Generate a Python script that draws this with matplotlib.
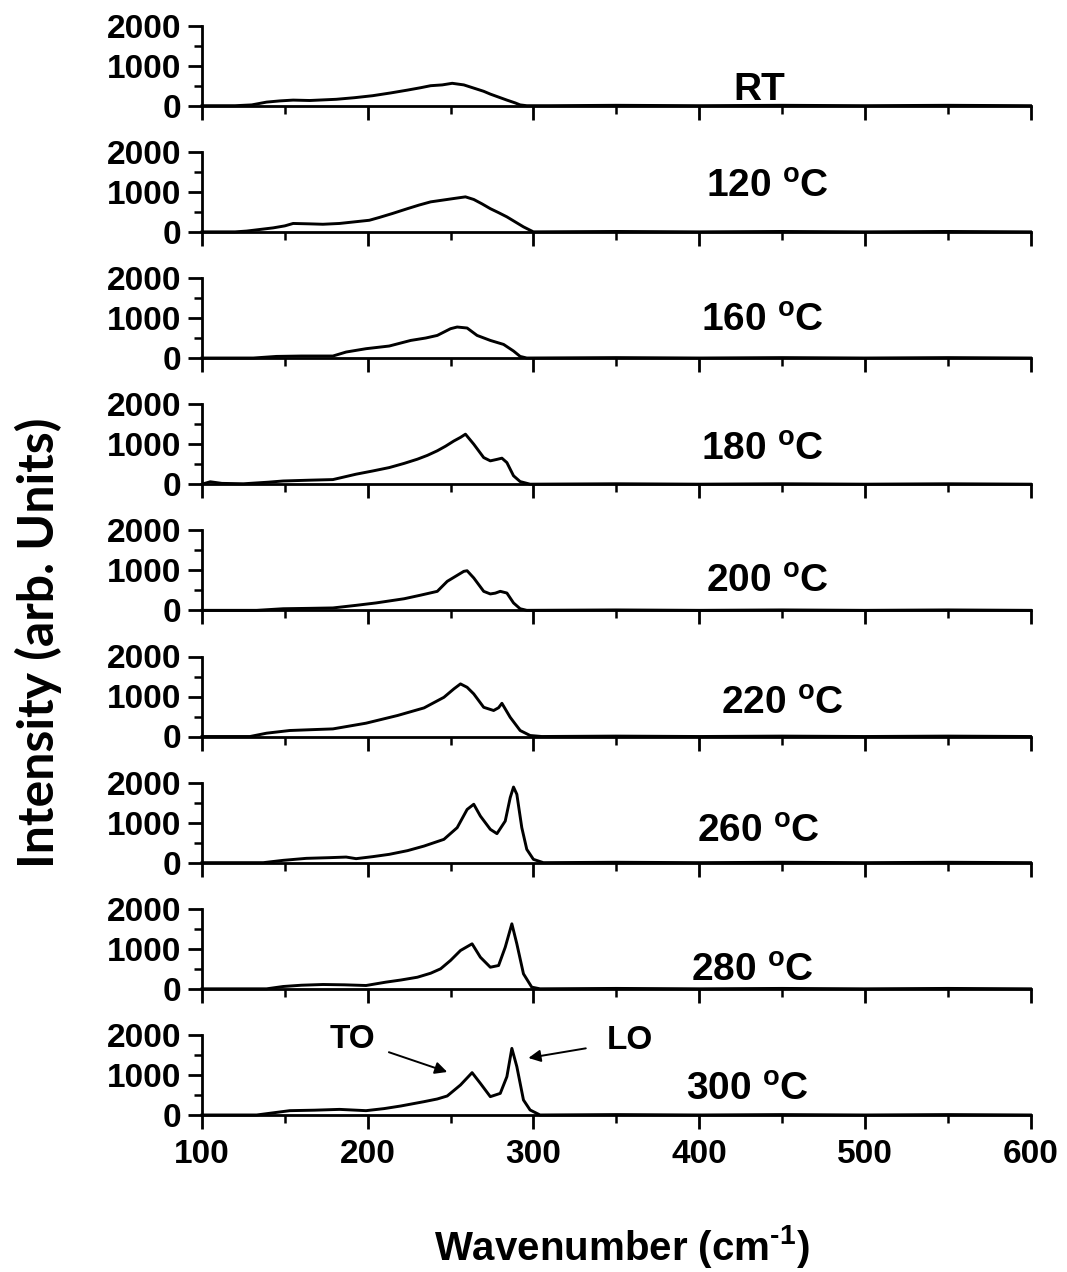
import matplotlib
matplotlib.use("Agg")
import matplotlib.pyplot as plt

plt.rcParams['font.family'] = ['Liberation Sans', 'DejaVu Sans']
plt.rcParams['font.weight'] = 'bold'
plt.rcParams['mathtext.default'] = 'regular'

# ---------------- data ----------------
labels = ["RT", "120 $^{o}$C", "160 $^{o}$C", "180 $^{o}$C", "200 $^{o}$C",
          "220 $^{o}$C", "260 $^{o}$C", "280 $^{o}$C", "300 $^{o}$C"]

wn_rt = [100, 120, 130, 139, 147, 155, 165, 181, 192, 203, 214, 224, 232, 238, 245, 251, 258, 264, 270, 274, 280, 284, 289, 292, 296, 310, 350, 400, 450, 500, 550, 600]
in_rt = [0, 0, 20, 90, 120, 140, 130, 160, 200, 250, 320, 390, 450, 500, 520, 560, 520, 440, 360, 290, 200, 140, 70, 20, 0, 0, 10, 0, 10, 0, 10, 0]

wn_120 = [100, 120, 127, 135, 143, 150, 155, 165, 173, 183, 192, 201, 207, 215, 224, 231, 238, 248, 253, 259, 264, 269, 274, 279, 284, 289, 294, 300, 350, 400, 450, 500, 550, 600]
in_120 = [0, 0, 20, 60, 100, 150, 210, 200, 190, 210, 250, 290, 360, 460, 580, 670, 750, 810, 840, 875, 810, 700, 580, 480, 375, 250, 125, 0, 10, 0, 10, 0, 10, 0]

wn_160 = [100, 131, 145, 160, 179, 187, 199, 213, 226, 235, 242, 250, 254, 260, 266, 274, 282, 288, 292, 296, 350, 400, 450, 500, 550, 600]
in_160 = [0, 0, 40, 50, 50, 150, 233, 300, 440, 500, 565, 733, 775, 750, 565, 440, 340, 175, 40, 0, 10, 0, 10, 0, 10, 0]

wn_180 = [100, 105, 112, 125, 140, 149, 165, 179, 193, 203, 213, 222, 230, 236, 242, 247, 252, 256, 259, 264, 270, 274, 278, 281, 284, 288, 292, 298, 350, 400, 450, 500, 550, 600]
in_180 = [0, 60, 20, 10, 50, 80, 100, 115, 250, 330, 415, 520, 625, 720, 835, 950, 1080, 1170, 1250, 1000, 665, 583, 620, 650, 540, 210, 65, 0, 10, 0, 10, 0, 10, 0]

wn_200 = [100, 133, 149, 165, 179, 193, 205, 222, 232, 242, 248, 253, 258, 260, 264, 270, 274, 277, 280, 284, 288, 292, 296, 350, 400, 450, 500, 550, 600]
in_200 = [0, 0, 40, 50, 60, 125, 185, 290, 380, 475, 725, 850, 975, 990, 810, 475, 410, 430, 475, 433, 185, 40, 0, 10, 0, 10, 0, 10, 0]

wn_220 = [100, 129, 139, 153, 169, 179, 199, 218, 234, 246, 252, 256, 260, 264, 270, 276, 279, 281, 286, 292, 298, 305, 350, 400, 450, 500, 550, 600]
in_220 = [0, 0, 83, 150, 175, 190, 333, 525, 715, 980, 1190, 1315, 1230, 1065, 730, 650, 720, 830, 480, 150, 25, 0, 10, 0, 10, 0, 10, 0]

wn_260 = [100, 137, 149, 163, 177, 187, 193, 203, 213, 224, 234, 246, 254, 260, 264, 268, 274, 278, 283, 286, 288, 290, 293, 296, 300, 306, 350, 400, 450, 500, 550, 600]
in_260 = [0, 0, 58, 108, 125, 140, 100, 150, 208, 300, 415, 583, 875, 1330, 1460, 1165, 833, 725, 1040, 1625, 1890, 1710, 875, 333, 83, 0, 10, 0, 10, 0, 10, 0]

wn_280 = [100, 139, 149, 160, 173, 186, 199, 211, 220, 230, 238, 244, 250, 256, 263, 268, 274, 279, 283, 287, 290, 294, 299, 304, 350, 400, 450, 500, 550, 600]
in_280 = [0, 0, 58, 90, 108, 100, 83, 167, 220, 290, 390, 500, 710, 958, 1125, 790, 540, 583, 1040, 1625, 1125, 375, 42, 0, 10, 0, 10, 0, 10, 0]

wn_300 = [100, 133, 153, 168, 183, 199, 210, 220, 234, 242, 248, 256, 263, 268, 274, 280, 284, 287, 290, 294, 298, 304, 350, 400, 450, 500, 550, 600]
in_300 = [0, 0, 108, 120, 140, 108, 160, 225, 333, 400, 475, 750, 1058, 790, 458, 540, 958, 1665, 1210, 375, 125, 0, 10, 0, 10, 0, 10, 0]

spectra = [(wn_rt, in_rt), (wn_120, in_120), (wn_160, in_160), (wn_180, in_180),
           (wn_200, in_200), (wn_220, in_220), (wn_260, in_260), (wn_280, in_280),
           (wn_300, in_300)]

# label positions (wavenumber, intensity) for each temperature text
label_x = [436, 441, 438, 438, 441, 450, 436, 432, 429]
label_y = [130, 875, 675, 600, 475, 575, 525, 200, 375]

x_ticks = [100, 200, 300, 400, 500, 600]
y_ticks = [0, 1000, 2000]

# ---------------- figure ----------------
W, H = 1067, 1272
fig = plt.figure(figsize=(W / 100, H / 100), dpi=100)

left_px, right_px = 202, 1030.5
base0, step, hpx = 105.7, 126.16, 80

axes = []
for i, (wn, inten) in enumerate(spectra):
    base = base0 + i * step
    ax = fig.add_axes([left_px / W, 1 - base / H, (right_px - left_px) / W, hpx / H])
    ax.plot(wn, inten, color='black', lw=2.1, clip_on=False,
            solid_joinstyle='round')
    ax.set_xlim(100, 600)
    ax.set_ylim(0, 2000)
    ax.patch.set_alpha(0)
    for s in ('top', 'right'):
        ax.spines[s].set_visible(False)
    for s in ('left', 'bottom'):
        ax.spines[s].set_linewidth(2.0)
    ax.set_xticks(x_ticks)
    ax.set_xticks([150, 250, 350, 450, 550], minor=True)
    ax.set_yticks(y_ticks)
    ax.set_yticks([500, 1500], minor=True)
    ax.tick_params(axis='both', which='major', direction='out', length=10, width=2.0,
                   labelsize=24)
    ax.tick_params(axis='both', which='minor', direction='out', length=5.5, width=1.8)
    ax.tick_params(axis='y', pad=5)
    if i < len(spectra) - 1:
        ax.tick_params(axis='x', labelbottom=False)
    else:
        ax.tick_params(axis='x', pad=7)
    for t in ax.get_xticklabels() + ax.get_yticklabels():
        t.set_fontweight('bold')
    ax.text(label_x[i], label_y[i], labels[i], ha='center', va='baseline',
            fontsize=28, fontweight='bold', clip_on=False)
    axes.append(ax)

# annotations on last panel
ax = axes[-1]
ax.annotate("TO", xy=(248, 1075), xytext=(191, 1875), ha='center', va='center',
            fontsize=24, fontweight='bold',
            arrowprops=dict(arrowstyle='-|>', color='black', lw=1.4,
                            mutation_scale=18, shrinkA=8, shrinkB=0))
ax.annotate("LO", xy=(297, 1425), xytext=(358, 1850), ha='center', va='center',
            fontsize=24, fontweight='bold',
            arrowprops=dict(arrowstyle='-|>', color='black', lw=1.4,
                            mutation_scale=18, shrinkA=13, shrinkB=0))

fig.text(0.5 * (left_px + right_px) / W + 0.005, 1 - 1247 / H,
         "Wavenumber (cm$^{\u2010 1}$)",
         ha='center', va='center', fontsize=29, fontweight='bold')
fig.text(38 / W, 1 - 643 / H, "Intensity (arb. Units)", rotation=90,
         ha='center', va='center', fontsize=36, fontweight='bold',
         family=['Lato', 'DejaVu Sans'])

fig.savefig("out.png", dpi=100, facecolor='white')
